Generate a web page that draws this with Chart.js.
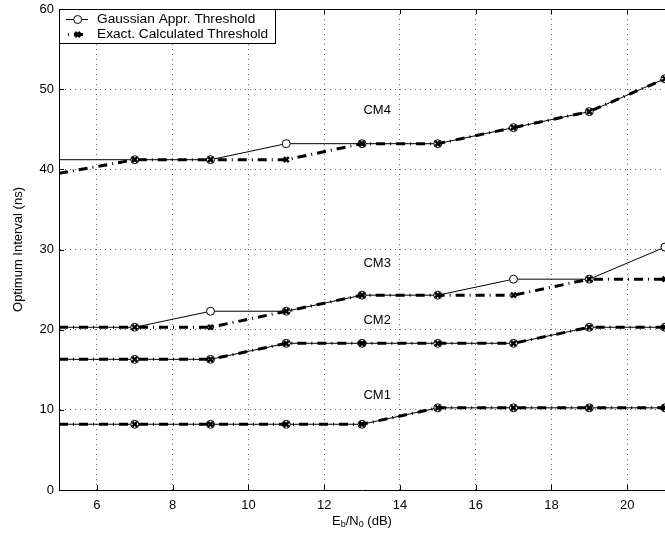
<!DOCTYPE html>
<html>
<head>
<meta charset="utf-8">
<script src="https://cdn.jsdelivr.net/npm/chart.js@4.4.0/dist/chart.umd.min.js"></script>
<style>
  html, body { margin: 0; padding: 0; background: #fff; overflow: hidden; }
  #wrap { width: 665px; height: 544px; position: relative; }
</style>
</head>
<body>
<div id="wrap"><canvas id="chart"></canvas></div>
<script>
// Eb/N0 (dB) and optimum interval (ns)
const ebn0 = [5, 7, 9, 11, 13, 15, 17, 19, 21];
const cm1Gauss = [8.2, 8.2, 8.2, 8.2, 8.2, 10.25, 10.25, 10.25, 10.25];
const cm1Exact = [8.2, 8.2, 8.2, 8.2, 8.2, 10.25, 10.25, 10.25, 10.25];
const cm2Gauss = [16.3, 16.3, 16.3, 18.3, 18.3, 18.3, 18.3, 20.3, 20.3];
const cm2Exact = [16.3, 16.3, 16.3, 18.3, 18.3, 18.3, 18.3, 20.3, 20.3];
const cm3Gauss = [20.3, 20.3, 22.3, 22.3, 24.3, 24.3, 26.3, 26.3, 30.3];
const cm3Exact = [20.3, 20.3, 20.3, 22.3, 24.3, 24.3, 24.3, 26.3, 26.3];
const cm4Gauss = [41.2, 41.2, 41.2, 43.2, 43.2, 43.2, 45.2, 47.2, 51.3];
const cm4Exact = [39.5, 41.2, 41.2, 41.2, 43.2, 43.2, 45.2, 47.2, 51.3];

const xTicks = [6, 8, 10, 12, 14, 16, 18, 20];
const yTicks = [0, 10, 20, 30, 40, 50, 60];

const seriesNames = ['Gaussian Appr. Threshold', 'Exact. Calculated Threshold'];
const cmNames = ['CM1', 'CM2', 'CM3', 'CM4'];
const cmNameX = [13.4, 13.4, 13.4, 13.4];
const cmNameY = [11.85, 21.2, 28.3, 47.4];

const FONT = "'Liberation Sans', Arial, Helvetica, sans-serif";
const DASHDOT = [9, 5, 1, 5];

const pts = (ys) => ebn0.map((x, i) => ({x: x, y: ys[i]}));
// no marker at the clipped left edge
const radius = (r) => ebn0.map(x => x <= 5 ? 0 : r);

function exactSet(ys) {
  return {
    label: seriesNames[1], data: pts(ys),
    borderColor: '#000', borderWidth: 3, borderDash: DASHDOT,
    pointStyle: 'crossRot', pointRadius: radius(3.5), pointBorderWidth: 2.5,
    pointBorderColor: '#000', pointBackgroundColor: '#000', tension: 0
  };
}
function gaussSet(ys) {
  return {
    label: seriesNames[0], data: pts(ys),
    borderColor: '#000', borderWidth: 1,
    pointStyle: 'circle', pointRadius: radius(4), pointBorderWidth: 1,
    pointBorderColor: '#000', pointBackgroundColor: '#fff', tension: 0
  };
}

const extras = {
  id: 'extras',
  afterDraw(chart) {
    const ctx = chart.ctx, a = chart.chartArea;
    const xs = chart.scales.x, ys = chart.scales.y;
    ctx.save();
    ctx.strokeStyle = '#000'; ctx.lineWidth = 1; ctx.setLineDash([]);
    // top box edge
    ctx.beginPath(); ctx.moveTo(a.left, a.top + 0.5); ctx.lineTo(a.right, a.top + 0.5); ctx.stroke();
    // inward tick marks
    ctx.beginPath();
    xTicks.forEach(v => {
      const px = Math.round(xs.getPixelForValue(v)) + 0.5;
      ctx.moveTo(px, a.bottom); ctx.lineTo(px, a.bottom - 5);
      ctx.moveTo(px, a.top); ctx.lineTo(px, a.top + 5);
    });
    yTicks.forEach(v => {
      const py = Math.round(ys.getPixelForValue(v)) + 0.5;
      ctx.moveTo(a.left, py); ctx.lineTo(a.left + 5, py);
    });
    ctx.stroke();

    // CM labels
    ctx.fillStyle = '#000';
    ctx.font = '13px ' + FONT;
    ctx.textAlign = 'center'; ctx.textBaseline = 'middle';
    cmNames.forEach((t, i) => {
      ctx.fillText(t, xs.getPixelForValue(cmNameX[i]), ys.getPixelForValue(cmNameY[i]));
    });

    // legend box
    const lx = 59.5, ly = 9.5, lw = 216, lh = 34;
    ctx.fillStyle = '#fff';
    ctx.fillRect(lx, ly, lw, lh);
    ctx.strokeRect(lx, ly, lw, lh);
    const r1 = 19.5, r2 = 34.5, sx0 = 66, sx1 = 88, mx = 77.7;
    ctx.beginPath(); ctx.moveTo(sx0, r1); ctx.lineTo(sx1, r1); ctx.stroke();
    ctx.beginPath(); ctx.arc(mx, r1, 4, 0, Math.PI * 2);
    ctx.fillStyle = '#fff'; ctx.fill(); ctx.stroke();
    ctx.save();
    ctx.lineWidth = 3; ctx.setLineDash(DASHDOT); ctx.lineDashOffset = 12;
    ctx.beginPath(); ctx.moveTo(sx0, r2); ctx.lineTo(sx1, r2); ctx.stroke();
    ctx.restore();
    ctx.save();
    ctx.lineWidth = 2.5;
    ctx.beginPath();
    ctx.moveTo(mx - 2.5, r2 - 2.5); ctx.lineTo(mx + 2.5, r2 + 2.5);
    ctx.moveTo(mx + 2.5, r2 - 2.5); ctx.lineTo(mx - 2.5, r2 + 2.5);
    ctx.stroke();
    ctx.restore();
    ctx.fillStyle = '#000';
    ctx.font = '13.7px ' + FONT;
    ctx.textAlign = 'left'; ctx.textBaseline = 'middle';
    ctx.fillText(seriesNames[0], 97, r1);
    ctx.fillText(seriesNames[1], 97, r2);

    // x axis title with subscripts: Eb/N0 (dB)
    const parts = [['E', 13, 0], ['b', 9, 4], ['/N', 13, 0], ['0', 9, 4], [' (dB)', 13, 0]];
    let total = 0;
    parts.forEach(p => { ctx.font = p[1] + 'px ' + FONT; total += ctx.measureText(p[0]).width; });
    let cx = (a.left + a.right) / 2 - total / 2;
    const ty = 521;
    ctx.textAlign = 'left'; ctx.textBaseline = 'middle';
    parts.forEach(p => {
      ctx.font = p[1] + 'px ' + FONT;
      ctx.fillText(p[0], cx, ty + p[2]);
      cx += ctx.measureText(p[0]).width;
    });
    ctx.restore();
  }
};

new Chart(document.getElementById('chart'), {
  type: 'line',
  data: {
    datasets: [
      exactSet(cm1Exact), exactSet(cm2Exact), exactSet(cm3Exact), exactSet(cm4Exact),
      gaussSet(cm1Gauss), gaussSet(cm2Gauss), gaussSet(cm3Gauss), gaussSet(cm4Gauss)
    ]
  },
  options: {
    responsive: true, maintainAspectRatio: false, animation: false,
    layout: {autoPadding: false, padding: {top: 9, left: 0, right: 0, bottom: 0}},
    plugins: {legend: {display: false}, tooltip: {enabled: false}},
    scales: {
      x: {
        type: 'linear', min: 5, max: 21,
        afterBuildTicks: (s) => { s.ticks = xTicks.map(v => ({value: v})); },
        afterFit: (s) => { s.height = 54; s.paddingLeft = 0; s.paddingRight = 0; },
        ticks: {color: '#000', font: {size: 13, family: FONT}, padding: 8},
        grid: {color: '#666', lineWidth: 1, drawTicks: false},
        border: {display: true, color: '#000', width: 1, dash: [1, 4]}
      },
      y: {
        min: 0, max: 60,
        afterBuildTicks: (s) => { s.ticks = yTicks.map(v => ({value: v})); },
        afterFit: (s) => { s.width = 59; s.paddingTop = 0; s.paddingBottom = 0; },
        ticks: {color: '#000', font: {size: 13, family: FONT}, padding: 5},
        grid: {color: '#666', lineWidth: 1, drawTicks: false},
        border: {display: true, color: '#000', width: 1, dash: [1, 4]},
        title: {display: true, text: 'Optimum Interval (ns)', color: '#000',
                font: {size: 13, family: FONT}, padding: {top: 11, bottom: 0}}
      }
    }
  },
  plugins: [extras]
});
</script>
</body>
</html>
